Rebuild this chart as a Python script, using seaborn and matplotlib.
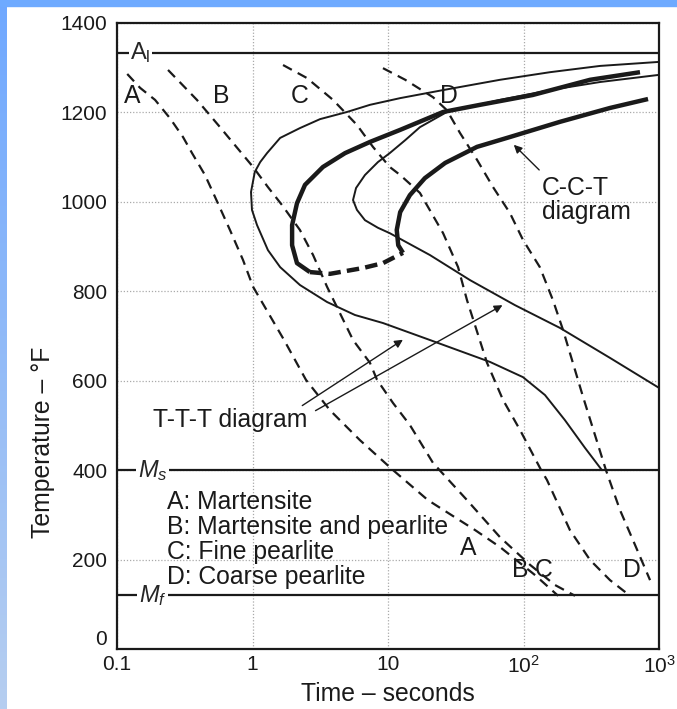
import numpy as np
import matplotlib
matplotlib.use("Agg")
import matplotlib.pyplot as plt
from matplotlib.patches import Rectangle
import seaborn as sns

# cooling curves (time s, temperature F)
cool_a_t = [0.119, 0.148, 0.191, 0.246, 0.307, 0.358, 0.446, 0.529, 0.682, 0.851, 1.01,
            1.71, 2.48, 3.73, 6.21, 10.9, 19.7, 43.9, 67.1, 122, 180]
cool_a_T = [1286, 1255, 1228, 1187, 1145, 1109, 1060, 1011, 937, 870, 810,
            691, 602, 534, 467, 400, 333, 266, 228, 165, 119]
cool_b_t = [0.238, 0.389, 0.576, 0.718, 1.01, 1.30, 1.65, 2.24, 2.80, 3.55, 4.42, 5.52,
            7.36, 8.30, 10.9, 14.5, 21.5, 38.3, 67.1, 112, 171, 240]
cool_b_T = [1295, 1228, 1167, 1132, 1078, 1033, 993, 937, 881, 810, 751, 691,
            640, 602, 550, 501, 416, 333, 250, 188, 143, 119]
cool_c_t = [1.68, 2.52, 3.93, 5.90, 7.74, 10.3, 12.3, 17.2, 25.5, 32.9, 38.3, 53.8,
            70.6, 94.2, 135, 149, 220, 310, 435, 611]
cool_c_T = [1306, 1277, 1228, 1172, 1123, 1078, 1060, 1020, 930, 854, 780, 640,
            557, 490, 400, 378, 266, 199, 154, 119]
cool_d_t = [9.18, 13.4, 21.5, 27.2, 34.0, 45.4, 59.6, 79.4, 99.1, 132, 165, 196,
            275, 406, 515, 665, 859]
cool_d_T = [1299, 1273, 1234, 1205, 1154, 1094, 1033, 975, 915, 854, 780, 713,
            564, 400, 311, 233, 154]

# T-T-T diagram: start and finish of transformation
ttt_start_t = [1000, 367, 157, 67.1, 25.5, 12.3, 7.36, 4.98, 3.15, 2.24, 1.60, 1.28, 1.14,
               1.04, 0.975, 0.991, 1.08, 1.30, 1.60, 2.24, 3.55, 5.70, 9.18, 20.4, 56.6,
               99.1, 144, 202, 284, 379]
ttt_start_T = [1313, 1304, 1290, 1273, 1250, 1232, 1217, 1201, 1185, 1165, 1143, 1109, 1089,
               1067, 1022, 982, 948, 892, 854, 814, 776, 747, 729, 691, 642,
               608, 568, 512, 450, 400]
ttt_finish_t = [1000, 367, 157, 67.1, 27.2, 17.2, 13.4, 10.3, 8.43, 6.76, 5.81, 5.52, 5.90,
                6.76, 8.43, 10.3, 20.4, 40.3, 86.5, 186, 435, 1000]
ttt_finish_T = [1284, 1268, 1250, 1228, 1201, 1167, 1138, 1109, 1089, 1060, 1031, 1004, 982,
                959, 942, 930, 881, 825, 769, 718, 651, 584]

# C-C-T diagram
cct_outer_t = [724, 310, 117, 47.8, 25.5, 12.3, 7.36, 4.82, 3.31, 2.44, 2.13, 1.96,
               1.96, 2.13, 2.65]
cct_outer_T = [1290, 1273, 1239, 1217, 1201, 1161, 1134, 1109, 1078, 1038, 997, 948,
               903, 863, 843]
cct_link_t = [2.65, 3.73, 6.53, 9.18, 12.9]
cct_link_T = [843, 839, 852, 863, 886]
cct_inner_t = [12.9, 11.9, 11.6, 12.3, 14.5, 18.7, 26.4, 45.4, 79.4, 186, 435, 830]
cct_inner_T = [886, 903, 937, 977, 1015, 1053, 1087, 1123, 1145, 1179, 1210, 1230]

# reference temperatures
a1_temp = 1333
ms_temp = 400
mf_temp = 120

legend_lines = ["A: Martensite", "B: Martensite and pearlite",
                "C: Fine pearlite", "D: Coarse pearlite"]
x_ticks = [0.1, 1, 10, 100, 1000]
x_tick_labels = ["0.1", "1", "10", "10$^2$", "10$^3$"]
y_ticks = [0, 200, 400, 600, 800, 1000, 1200, 1400]

sns.set_theme(style="white")
plt.rcParams["font.family"] = ["Liberation Sans", "DejaVu Sans"]
plt.rcParams["mathtext.fontset"] = "custom"
plt.rcParams["mathtext.rm"] = "Liberation Sans"
plt.rcParams["mathtext.it"] = "Liberation Sans:italic"

fig = plt.figure(figsize=(6.77, 7.09), dpi=100)
fig.patch.set_facecolor("white")

# blue frame on the top and left
fig.patches.append(Rectangle((0, 1 - 6 / 709), 1, 6 / 709, transform=fig.transFigure,
                             color="#6eaaff", zorder=0))
side = fig.add_axes([0, 0, 7 / 677, 1])
grad = np.linspace(0, 1, 256).reshape(-1, 1)
side.imshow(grad, aspect="auto", cmap=matplotlib.colors.LinearSegmentedColormap.from_list(
    "frame", ["#6fa8ff", "#b6cef0"]))
side.axis("off")

ax = fig.add_axes([117 / 677, 60 / 709, 542 / 677, 626 / 709])
ax.set_xscale("log")
ax.set_xlim(0.1, 1000)
ax.set_ylim(0, 1400)

ink = "#1a1a1a"
dash_kw = dict(color=ink, lw=1.6, dashes=(4.5, 3))
curves = [
    (cool_a_t, cool_a_T, dash_kw),
    (cool_b_t, cool_b_T, dash_kw),
    (cool_c_t, cool_c_T, dash_kw),
    (cool_d_t, cool_d_T, dash_kw),
    (ttt_start_t, ttt_start_T, dict(color=ink, lw=1.4)),
    (ttt_finish_t, ttt_finish_T, dict(color=ink, lw=1.4)),
    (cct_outer_t, cct_outer_T, dict(color=ink, lw=3.2, solid_capstyle="butt")),
    (cct_link_t, cct_link_T, dict(color=ink, lw=3.2, dashes=(2.8, 1.4))),
    (cct_inner_t, cct_inner_T, dict(color=ink, lw=3.2, solid_capstyle="butt")),
]
for t, T, kw in curves:
    sns.lineplot(x=t, y=T, sort=False, estimator=None, ax=ax, **kw)

for temp in (a1_temp, ms_temp, mf_temp):
    ax.axhline(temp, color=ink, lw=1.6, zorder=3)

fs = 17.8
box = dict(fc="white", ec="none", pad=1.0)
ax.text(0.149, a1_temp, r"$\mathrm{A_l}$", fontsize=17, ha="center", va="center",
        bbox=box, zorder=4)
ax.text(0.183, ms_temp, r"$M_s$", fontsize=17, ha="center", va="center",
        bbox=box, zorder=4)
ax.text(0.183, mf_temp, r"$M_f$", fontsize=17, ha="center", va="center",
        bbox=box, zorder=4)

# curve letters
for lab, t, T in [("A", 0.129, 1236), ("B", 0.59, 1236), ("C", 2.24, 1236), ("D", 28, 1236),
                  ("A", 38.9, 226), ("B", 94, 177), ("C", 140, 177), ("D", 630, 177)]:
    ax.text(t, T, lab, fontsize=fs, ha="center", va="center", color=ink)

for i, line in enumerate(legend_lines):
    ax.text(0.234, 329 - 56 * i, line, fontsize=fs, ha="left", va="center", color=ink)

ax.text(137, 1004, "C-C-T\ndiagram", fontsize=fs, ha="left", va="center", color=ink,
        linespacing=1.0)
ax.annotate("", xy=(82, 1132), xytext=(135, 1067),
            arrowprops=dict(arrowstyle="-|>", color=ink, lw=1.0, mutation_scale=12))
ax.text(0.1846, 512, "T-T-T diagram", fontsize=fs, ha="left", va="center", color=ink)
ax.annotate("", xy=(13.4, 695), xytext=(2.24, 541),
            arrowprops=dict(arrowstyle="-|>", color=ink, lw=1.0, mutation_scale=12))
ax.annotate("", xy=(72.9, 772), xytext=(2.80, 530),
            arrowprops=dict(arrowstyle="-|>", color=ink, lw=1.0, mutation_scale=12))

ax.set_xticks(x_ticks)
ax.set_xticklabels(x_tick_labels)
ax.xaxis.set_minor_locator(matplotlib.ticker.NullLocator())
ax.set_yticks(y_ticks)
ax.tick_params(axis="both", direction="in", colors=ink, labelsize=15, width=1.4)
ax.tick_params(axis="y", length=11, pad=7)
ax.tick_params(axis="x", length=9, pad=4)
ax.get_yticklabels()[0].set_va("bottom")
ax.grid(True, color="#aaaaaa", ls=(0, (1, 1.5)), lw=0.9)
for s in ax.spines.values():
    s.set_color(ink)
    s.set_linewidth(1.6)
ax.set_xlabel("Time – seconds", fontsize=fs, color=ink, labelpad=4)
ax.set_ylabel("Temperature – °F", fontsize=fs, color=ink)
ax.yaxis.set_label_coords(-0.115, 0.33)

fig.savefig("out.png", dpi=100)
